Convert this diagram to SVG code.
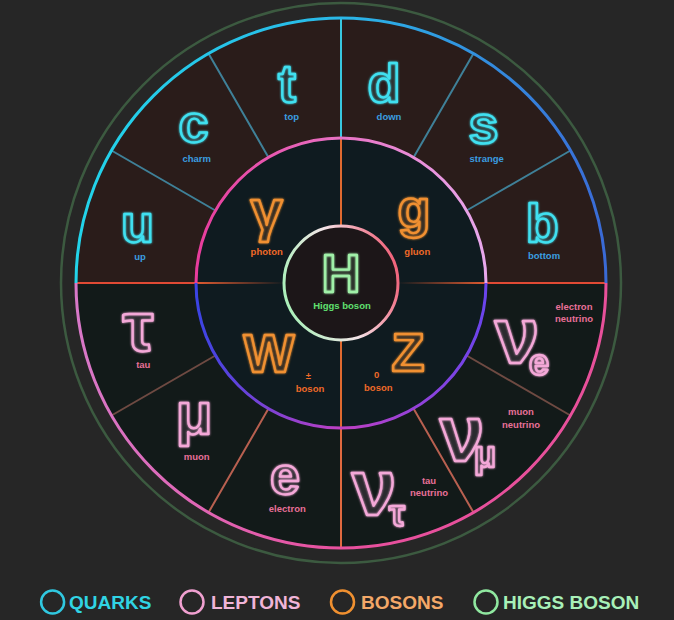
<svg xmlns="http://www.w3.org/2000/svg" width="674" height="620" viewBox="0 0 674 620">
<defs>
<linearGradient id="gQuark" gradientUnits="userSpaceOnUse" x1="76" y1="0" x2="606" y2="0"><stop offset="0" stop-color="#22d4ea"/><stop offset="0.5" stop-color="#2ab8e8"/><stop offset="1" stop-color="#3a6ad6"/></linearGradient>
<linearGradient id="gLepton" gradientUnits="userSpaceOnUse" x1="76" y1="0" x2="606" y2="0"><stop offset="0" stop-color="#d878c8"/><stop offset="0.5" stop-color="#e8509e"/><stop offset="1" stop-color="#e8509a"/></linearGradient>
<linearGradient id="gBosTop" gradientUnits="userSpaceOnUse" x1="196" y1="0" x2="486" y2="0"><stop offset="0" stop-color="#e83c9c"/><stop offset="1" stop-color="#e8a8ec"/></linearGradient>
<linearGradient id="gBosBot" gradientUnits="userSpaceOnUse" x1="196" y1="0" x2="486" y2="0"><stop offset="0" stop-color="#3a44e4"/><stop offset="0.5" stop-color="#c040c4"/><stop offset="1" stop-color="#6a44ec"/></linearGradient>
<linearGradient id="gHiggs" gradientUnits="userSpaceOnUse" x1="284" y1="300" x2="398" y2="266"><stop offset="0" stop-color="#a8f0b8"/><stop offset="0.5" stop-color="#f4e4e8"/><stop offset="1" stop-color="#f06078"/></linearGradient>
<linearGradient id="gFadeL" gradientUnits="userSpaceOnUse" x1="196" y1="0" x2="284" y2="0"><stop offset="0" stop-color="#e05a30"/><stop offset="1" stop-color="#e05a30" stop-opacity="0"/></linearGradient>
<linearGradient id="gFadeR" gradientUnits="userSpaceOnUse" x1="398" y1="0" x2="486" y2="0"><stop offset="0" stop-color="#e05a30" stop-opacity="0"/><stop offset="1" stop-color="#e05a30"/></linearGradient>
<filter id="glow" x="-20%" y="-20%" width="140%" height="140%"><feGaussianBlur stdDeviation="1.2" result="b"/><feMerge><feMergeNode in="b"/><feMergeNode in="SourceGraphic"/></feMerge></filter>
</defs>
<style>
.q{fill:#2a1c1a}
.l{fill:#121a19}
.bz{fill:#0f1b20}
.sym{font-family:"Liberation Sans",Arial,sans-serif;font-weight:bold;font-size:54px;text-anchor:middle;stroke-width:2.4;stroke-linejoin:round;filter:url(#glow)}
.sub{font-size:36px}
.nu{font-size:80px}
.qs{fill:#40e0f0;fill-opacity:0.06;stroke:#40e0f0}
.ls{fill:#f4a8d8;fill-opacity:0.06;stroke:#f4a8d8}
.bs{fill:#f09030;fill-opacity:0.08;stroke:#f09030}
.hs{fill:#a0f0a8;fill-opacity:0.06;stroke:#a0f0a8}
.lab{font-family:"Liberation Sans",Arial,sans-serif;font-weight:bold;font-size:9.5px;text-anchor:middle}
.ql{fill:#3a9ee0}
.bl{fill:#f06a28}
.hl{fill:#60e070}
.ll{fill:#e87098}
.div{fill:none;stroke-width:2}
.leg{font-family:"Liberation Sans",Arial,sans-serif;font-weight:bold;font-size:19px}
</style>
<rect width="674" height="620" fill="#262626"/>
<circle cx="341" cy="283" r="280" fill="none" stroke="#3c5a40" stroke-width="2.5"/>

<g id="node-u"><path class="q" d="M76,283 A265,265 0 0 1 111.5,150.5 L215.4,210.5 A145,145 0 0 0 196,283 Z"/><text class="sym qs" x="137.5" y="242">u</text><text class="lab ql" x="140" y="260">up</text></g>
<g id="node-c"><path class="q" d="M111.5,150.5 A265,265 0 0 1 208.5,53.5 L268.5,157.4 A145,145 0 0 0 215.4,210.5 Z"/><text class="sym qs" x="193.5" y="142">c</text><text class="lab ql" x="196.7" y="162">charm</text></g>
<g id="node-t"><path class="q" d="M208.5,53.5 A265,265 0 0 1 341,18 L341,138 A145,145 0 0 0 268.5,157.4 Z"/><text class="sym qs" x="287" y="102">t</text><text class="lab ql" x="291.7" y="120">top</text></g>
<g id="node-d"><path class="q" d="M341,18 A265,265 0 0 1 473.5,53.5 L413.5,157.4 A145,145 0 0 0 341,138 Z"/><text class="sym qs" x="384" y="102">d</text><text class="lab ql" x="389" y="120">down</text></g>
<g id="node-s"><path class="q" d="M473.5,53.5 A265,265 0 0 1 570.5,150.5 L466.6,210.5 A145,145 0 0 0 413.5,157.4 Z"/><text class="sym qs" x="483.5" y="143">s</text><text class="lab ql" x="486.7" y="162">strange</text></g>
<g id="node-b"><path class="q" d="M570.5,150.5 A265,265 0 0 1 606,283 L486,283 A145,145 0 0 0 466.6,210.5 Z"/><text class="sym qs" x="542.3" y="242">b</text><text class="lab ql" x="544" y="258.5">bottom</text></g>

<g id="node-nue"><path class="l" d="M606,283 A265,265 0 0 1 570.5,415.5 L466.6,355.5 A145,145 0 0 0 486,283 Z"/><text class="sym nu ls" x="517" y="363">ν</text><text class="sym sub ls" x="539" y="375">e</text><text class="lab ll" x="574" y="310">electron</text><text class="lab ll" x="574" y="322">neutrino</text></g>
<g id="node-numu"><path class="l" d="M570.5,415.5 A265,265 0 0 1 473.5,512.5 L413.5,408.6 A145,145 0 0 0 466.6,355.5 Z"/><text class="sym nu ls" x="462" y="461">ν</text><text class="sym sub ls" x="485" y="467">μ</text><text class="lab ll" x="521" y="415">muon</text><text class="lab ll" x="521" y="427.5">neutrino</text></g>
<g id="node-nutau"><path class="l" d="M473.5,512.5 A265,265 0 0 1 341,548 L341,428 A145,145 0 0 0 413.5,408.6 Z"/><text class="sym nu ls" x="374" y="515">ν</text><text class="sym sub ls" x="397" y="526">τ</text><text class="lab ll" x="429" y="484">tau</text><text class="lab ll" x="429" y="496">neutrino</text></g>
<g id="node-e"><path class="l" d="M341,548 A265,265 0 0 1 208.5,512.5 L268.5,408.6 A145,145 0 0 0 341,428 Z"/><text class="sym ls" x="285" y="494">e</text><text class="lab ll" x="287.3" y="512">electron</text></g>
<g id="node-mu"><path class="l" d="M208.5,512.5 A265,265 0 0 1 111.5,415.5 L215.4,355.5 A145,145 0 0 0 268.5,408.6 Z"/><text class="sym ls" x="194" y="434" style="font-size:60px">μ</text><text class="lab ll" x="196.7" y="460">muon</text></g>
<g id="node-tau"><path class="l" d="M111.5,415.5 A265,265 0 0 1 76,283 L196,283 A145,145 0 0 0 215.4,355.5 Z"/><text class="sym ls" x="138" y="351" style="font-size:70px">τ</text><text class="lab ll" x="143.3" y="368">tau</text></g>

<g id="node-photon"><path class="bz" d="M196,283 A145,145 0 0 1 341,138 L341,226 A57,57 0 0 0 284,283 Z"/><text class="sym bs" x="266.7" y="230" style="font-size:58px">γ</text><text class="lab bl" x="266.7" y="254.5">photon</text></g>
<g id="node-gluon"><path class="bz" d="M341,138 A145,145 0 0 1 486,283 L398,283 A57,57 0 0 0 341,226 Z"/><text class="sym bs" x="414" y="227">g</text><text class="lab bl" x="417.3" y="254.5">gluon</text></g>
<g id="node-Z"><path class="bz" d="M486,283 A145,145 0 0 1 341,428 L341,340 A57,57 0 0 0 398,283 Z"/><text class="sym bs" x="408" y="371">Z</text><text class="lab bl" x="376.7" y="378">0</text><text class="lab bl" x="378.3" y="391">boson</text></g>
<g id="node-W"><path class="bz" d="M341,428 A145,145 0 0 1 196,283 L284,283 A57,57 0 0 0 341,340 Z"/><text class="sym bs" x="269" y="372">W</text><text class="lab bl" x="308.3" y="379">±</text><text class="lab bl" x="310" y="391.5">boson</text></g>

<g id="node-higgs"><circle cx="341" cy="283" r="57" fill="#1c1618"/><text class="sym hs" x="341" y="292">H</text><text class="lab hl" x="342" y="308.5">Higgs boson</text></g>

<g id="frame">
<path class="div" stroke="#3f8098" d="M111.5,150.5 L215.4,210.5 M208.5,53.5 L268.5,157.4 M473.5,53.5 L413.5,157.4 M570.5,150.5 L466.6,210.5"/>
<path class="div" stroke="#6e4a42" d="M111.5,415.5 L215.4,355.5 M570.5,415.5 L466.6,355.5"/>
<path class="div" stroke="#b86050" d="M208.5,512.5 L268.5,408.6 M473.5,512.5 L413.5,408.6"/>
<path class="div" stroke="#38c8e0" d="M341,18 L341,138"/>
<path class="div" stroke="#e06a30" d="M341,138 L341,226 M341,340 L341,428"/>
<path class="div" stroke="#e06a40" d="M341,428 L341,548"/>
<path class="div" stroke="#e04a34" d="M76,283 L196,283 M486,283 L606,283"/>
<path class="div" stroke="url(#gFadeL)" d="M196,283 L284,283"/>
<path class="div" stroke="url(#gFadeR)" d="M398,283 L486,283"/>
<path fill="none" stroke="url(#gQuark)" stroke-width="3" d="M76,283 A265,265 0 0 1 606,283"/>
<path fill="none" stroke="url(#gLepton)" stroke-width="3" d="M76,283 A265,265 0 0 0 606,283"/>
<path fill="none" stroke="url(#gBosTop)" stroke-width="3" d="M196,283 A145,145 0 0 1 486,283"/>
<path fill="none" stroke="url(#gBosBot)" stroke-width="3" d="M196,283 A145,145 0 0 0 486,283"/>
<circle cx="341" cy="283" r="57" fill="none" stroke="url(#gHiggs)" stroke-width="3"/>
</g>

<g id="legend">
<circle cx="52.6" cy="602" r="11.5" fill="none" stroke="#30c8e0" stroke-width="2.5"/><text class="leg" x="69" y="609" fill="#30d4e4">QUARKS</text>
<circle cx="192" cy="602" r="11.5" fill="none" stroke="#f0a0d0" stroke-width="2.5"/><text class="leg" x="211" y="609" fill="#f0b4d8">LEPTONS</text>
<circle cx="342.5" cy="602" r="11.5" fill="none" stroke="#f09030" stroke-width="2.5"/><text class="leg" x="361" y="609" fill="#f4a868">BOSONS</text>
<circle cx="486" cy="602" r="11.5" fill="none" stroke="#90e8a0" stroke-width="2.5"/><text class="leg" x="503" y="609" fill="#a8f0b8">HIGGS BOSON</text>
</g>
</svg>
